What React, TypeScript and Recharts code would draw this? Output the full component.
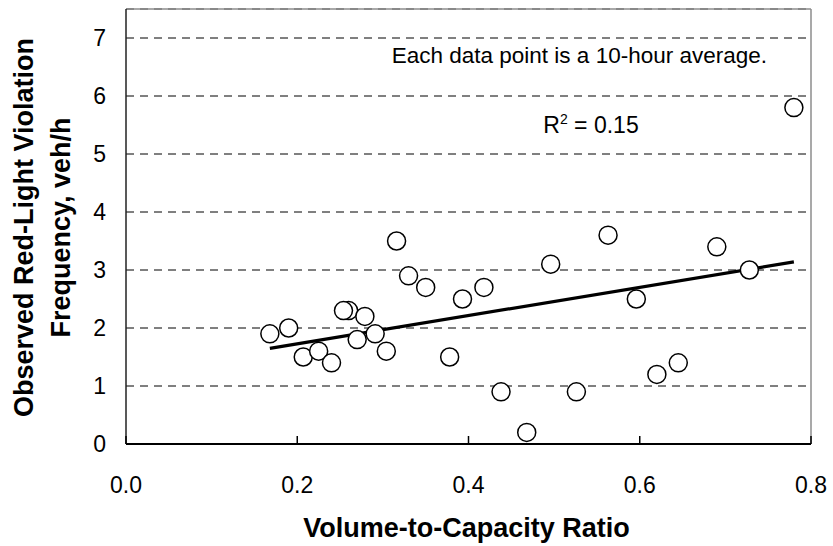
import { ScatterChart, Scatter, XAxis, YAxis, CartesianGrid, ReferenceLine, Label } from 'recharts'

// volume-to-capacity ratio vs observed violations (veh/h)
const vcRatio = [
  0.168, 0.19, 0.207, 0.225, 0.24, 0.26, 0.254, 0.27, 0.279, 0.291, 0.304, 0.316, 0.33, 0.35,
  0.378, 0.393, 0.418, 0.438, 0.468, 0.496, 0.526, 0.563, 0.596, 0.62, 0.645, 0.69, 0.728, 0.78,
]
const violations = [
  1.9, 2.0, 1.5, 1.6, 1.4, 2.3, 2.3, 1.8, 2.2, 1.9, 1.6, 3.5, 2.9, 2.7,
  1.5, 2.5, 2.7, 0.9, 0.2, 3.1, 0.9, 3.6, 2.5, 1.2, 1.4, 3.4, 3.0, 5.8,
]

// linear trend endpoints
const trendX = [0.168, 0.78]
const trendY = [1.65, 3.14]

const xTicks = [0, 0.2, 0.4, 0.6, 0.8]
const yTicks = [0, 1, 2, 3, 4, 5, 6, 7]

const points = vcRatio.map((x, i) => ({ x, y: violations[i] }))

const FONT = 'Liberation Sans, Arial, sans-serif'

const XTick = ({ x, y, payload }: any) => (
  <g>
    <line x1={x} x2={x} y1={y} y2={y - 8} stroke="#000" strokeWidth={1.5} />
    <text x={x} y={y + 48.5} textAnchor="middle" fontSize={23} fontFamily={FONT} fill="#000">
      {payload.value.toFixed(1)}
    </text>
  </g>
)

const YTick = ({ x, y, payload }: any) => (
  <text x={x - 20} y={y + 8.3} textAnchor="end" fontSize={23} fontFamily={FONT} fill="#000">
    {payload.value}
  </text>
)

const YTitle = ({ viewBox }: any) => {
  const cy = viewBox.y + viewBox.height / 2 + 1
  return (
    <g fontSize={27} fontWeight="bold" fontFamily={FONT} fill="#000">
      <text x={33} y={cy} textAnchor="middle" transform={`rotate(-90, 33, ${cy})`}>
        Observed Red-Light Violation
      </text>
      <text x={70} y={cy} textAnchor="middle" transform={`rotate(-90, 70, ${cy})`}>
        Frequency, veh/h
      </text>
    </g>
  )
}

const XTitle = ({ viewBox }: any) => (
  <text
    x={viewBox.x + viewBox.width / 2 - 2}
    y={viewBox.y + 93}
    textAnchor="middle"
    fontSize={27}
    fontWeight="bold"
    fontFamily={FONT}
    fill="#000"
  >
    Volume-to-Capacity Ratio
  </text>
)

const Marker = (p: any) => (
  <circle cx={p.cx} cy={p.cy} r={9} fill="#fff" stroke="#000" strokeWidth={1.5} />
)

export default function App() {
  return (
    <div style={{ position: 'absolute', left: 0, top: 0, background: '#fff' }}>
      <ScatterChart width={833} height={546} margin={{ top: 9, right: 22, left: 0, bottom: 0 }}>
        <CartesianGrid vertical={false} stroke="#000" strokeDasharray="8 6" strokeWidth={1} />
        <XAxis
          type="number"
          dataKey="x"
          domain={[0, 0.8]}
          ticks={xTicks}
          height={102}
          tickSize={0}
          tickMargin={0}
          tickLine={false}
          axisLine={{ stroke: '#000', strokeWidth: 2 }}
          tick={<XTick />}
          interval={0}
        >
          <Label content={<XTitle />} />
        </XAxis>
        <YAxis
          type="number"
          dataKey="y"
          domain={[0, 7.5]}
          ticks={yTicks}
          width={126}
          tickSize={0}
          tickMargin={0}
          tickLine={false}
          axisLine={{ stroke: '#222', strokeWidth: 1.5 }}
          tick={<YTick />}
          interval={0}
        >
          <Label content={<YTitle />} />
        </YAxis>
        <ReferenceLine y={7.5} stroke="#8c8c8c" strokeWidth={1.5} />
        <ReferenceLine x={0.8} stroke="#8c8c8c" strokeWidth={1.5} />
        <Scatter data={points} shape={<Marker />} isAnimationActive={false} />
        <ReferenceLine
          segment={[
            { x: trendX[0], y: trendY[0] },
            { x: trendX[1], y: trendY[1] },
          ]}
          stroke="#000"
          strokeWidth={3.2}
        />
        <ReferenceLine
          y={6.71}
          stroke="none"
          label={{
            value: 'Each data point is a 10-hour average.',
            position: 'insideRight',
            fontSize: 22.5,
            fontFamily: FONT,
            fill: '#000',
            offset: 44,
          }}
        />
        <ReferenceLine
          y={5.5}
          stroke="none"
          label={(props: any) => {
            const vb = props.viewBox
            const cx = vb.x + 465
            return (
              <text x={cx} y={vb.y + 8} fontSize={23} fontFamily={FONT} fill="#000" textAnchor="middle">
                R<tspan dy={-9} fontSize={14}>2</tspan>
                <tspan dy={9}> = 0.15</tspan>
              </text>
            )
          }}
        />
      </ScatterChart>
    </div>
  )
}
